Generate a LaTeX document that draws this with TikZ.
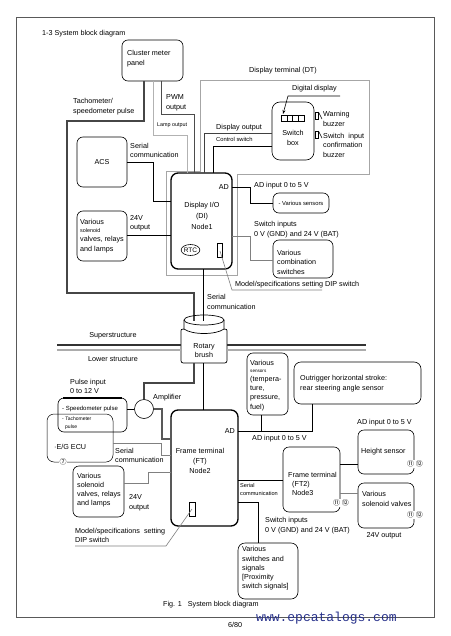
\documentclass[tikz,border=0pt]{standalone}
\usepackage{fontspec}
\setmainfont{Liberation Sans}
\newfontfamily\cjk{Noto Sans CJK JP}
\newfontfamily\wmfont{Liberation Mono}
\usetikzlibrary{arrows.meta,shapes.geometric}
\definecolor{wm}{RGB}{40,50,140}
\tikzset{
 box/.style={draw, rounded corners=5pt, line width=0.6pt, inner sep=0pt, outer sep=0pt},
 tbox/.style={draw, rounded corners=7pt, line width=1.3pt, inner sep=0pt, outer sep=0pt},
 txt/.style={inner sep=0pt, font=\fontsize{7.2}{9.5}\selectfont, align=left, anchor=west},
 sml/.style={txt, font=\fontsize{5.4}{7}\selectfont},
 cnum/.style={inner sep=0.6pt, fill=white, font=\cjk\fontsize{7}{7}\selectfont},
 wire/.style={draw, line width=0.6pt},
 gwire/.style={draw, gray, line width=0.8pt},
 tach/.style={draw, line width=2.2pt, gray!55!black},
}
\newcommand\bx[6]{\node[#6, minimum width={#4-#2}, minimum height={#5-#3}] (#1) at ({(#2+#4)/2},{(#3+#5)/2}) {};}
\begin{document}
\begin{tikzpicture}[x=1pt,y=-1pt]
\useasboundingbox (0,0) rectangle (450,636);
\fill[white] (0,0) rectangle (450,636);
% frame
\draw[gray!70!black, line width=0.7pt] (16,17) rectangle (434,617);
\node[txt] (title) at (42,34) {1-3 System block diagram};

% ---------- boxes ----------
\bx{cmp}{122}{40}{183}{81}{box, rounded corners=6pt}
\bx{acs}{77}{137}{127}{187}{box, rounded corners=6pt}
\bx{sol1}{77}{211}{127}{261}{box, rounded corners=6pt}
\bx{di}{171}{173}{232}{269}{tbox}
\bx{swb}{272}{102}{314}{160}{box, rounded corners=8pt}
\bx{vsen}{273}{193}{329}{213}{box, rounded corners=6pt}
\bx{comb}{273}{240}{333}{278}{box, rounded corners=6pt}
\bx{spd}{58}{398}{127}{432}{box, rounded corners=6pt}
\bx{ecu}{47}{414}{113}{462}{box, rounded corners=7pt, line width=0.5pt}
\bx{sol2}{73}{466}{124}{517}{box, rounded corners=6pt}
\bx{ft}{171}{410}{238}{526}{tbox}
\bx{sen2}{247}{353}{288}{415}{box, rounded corners=6pt}
\bx{outr}{294}{362}{421}{404}{box, rounded corners=7pt}
\bx{ft2}{283}{447}{340}{512}{box, rounded corners=6pt}
\bx{hgt}{358}{430}{414}{474}{box, rounded corners=6pt}
\bx{solv}{358}{483}{414}{528}{box, rounded corners=6pt}
\bx{vsw}{238}{543}{298}{599}{box, rounded corners=7pt}

% ---------- display terminal outline ----------
\draw[gray!70, line width=0.5pt] (200,80) -- (369,80) -- (369,174) -- (237,174) -- (237,275) -- (166,275) -- (166,171) -- (200,171) -- cycle;
\node[txt, anchor=center] (dtl) at (283,71) {Display terminal (DT)};

% ---------- cluster meter ----------
\node[txt] (cmpt) at (127,58.5) {Cluster meter\\panel};
\draw[tach] (cmp.south -| 144,0) -- (144,121) -- (67,121) -- (67,293) -- (194,293) -- (194,321);
\node[txt] (tachl) at (73,106.5) {Tachometer/\\speedometer pulse};
\draw[gwire, gray!60] (cmp.south -| 153,0) -- (153,135) -- (187,135) -- (di.north -| 187,0);
\node[sml] (lampl) at (157,125) {Lamp output};
\draw[gwire, gray!60!black] (cmp.south -| 161,0) -- (161,114) -- (194,114) -- (di.north -| 194,0);
\node[txt] (pwml) at (166,103) {PWM\\output};

% ---------- switch box ----------
\node[txt, anchor=center, align=center] (swbt) at (293,138) {Switch\\box};
\foreach \i in {0,1,2,3} {\draw[line width=0.5pt] ({281+5.75*\i},115) rectangle ({286.75+5.75*\i},121);}
\node[txt] (ddl) at (292,89) {Digital display};
\draw[wire, -{Stealth[length=4pt,width=3pt]}] (340,96) -- (288,96) -- (283,114);
\draw[line width=0.5pt] (315,112) rectangle (318.5,119);
\draw[line width=0.5pt] (318.5,112) -- (322,119);
\node[txt] (wbz) at (323,119) {Warning\\buzzer};
\draw[line width=0.5pt] (315,131) rectangle (318.5,138);
\draw[line width=0.5pt] (318.5,131) -- (322,138);
\node[txt] (sibz) at (323,145) {Switch\ \ input\\confirmation\\buzzer};
\draw[gwire, gray!50!black] (swb.west |- 0,133) -- (204,133) -- (di.north -| 204,0);
\node[txt] (dol) at (216,128) {Display output};
\draw[wire] (swb.west |- 0,146) -- (213,146) -- (di.north -| 213,0);
\node[sml, font=\fontsize{5.8}{7}\selectfont] (csl) at (216,139) {Control switch};

% ---------- ACS / solenoid upper ----------
\node[txt, anchor=center] (acst) at (acs.center) {ACS};
\node[txt] (acsl) at (130,150.5) {Serial\\communication};
\draw[wire] (acs.east) -- (153,162) -- (153,201) -- (di.west |- 0,201);
\node[txt] (s1a) at (80,222) {Various};
\node[sml] (s1b) at (80,230.5) {solenoid};
\node[txt] (s1c) at (80,240) {valves, relays};
\node[txt] (s1d) at (80,249.5) {and lamps};
\node[txt] (o24a) at (130,223) {24V\\output};
\draw[wire] (sol1.east |- 0,235) -- (di.west |- 0,235);

% ---------- Display I/O ----------
\node[txt, anchor=east] (ad1) at (229,187) {AD};
\node[txt, anchor=center, align=center, font=\fontsize{7.2}{11}\selectfont] (dit) at (202,216) {Display I/O\\(DI)\\Node1};
\node[draw, ellipse, line width=0.6pt, minimum width=16pt, minimum height=11pt, inner sep=0pt, font=\fontsize{6.5}{7}\selectfont] (rtc) at (190.5,250) {RTC};
\draw[line width=0.6pt] (217,243) rectangle (222,257);
\draw[gwire, line width=0.6pt] (220,251) -- (232,290) -- (322,290);
\node[txt] (dip1) at (235,285) {Model/specifications setting DIP switch};

\draw[wire] (di.east |- 0,187) -- (250,187) -- (250,203) -- (vsen.west);
\node[txt] (adi1) at (254,186) {AD input 0 to 5 V};
\node[sml, anchor=center, font=\fontsize{5.8}{7}\selectfont] (vsent) at (vsen.center) {- Various sensors};
\draw[gwire, line width=0.6pt] (di.east |- 0,236) -- (250,236) -- (250,260) -- (comb.west |- 0,260);
\node[txt] (swi1) at (254,229.5) {Switch inputs\\0 V (GND) and 24 V (BAT)};
\node[txt] (combt) at (277,262) {Various\\combination\\switches};

\draw[wire] (di.south -| 203,0) -- (203,321);
\node[txt] (ser1) at (207,302) {Serial\\communication};

% ---------- rotary brush ----------
\draw[line width=0.7pt] (204,320) ellipse [x radius=20pt, y radius=5pt];
\draw[line width=0.7pt] (184,320) -- (184,329) .. controls (192,335) and (216,335) .. (224,329) -- (224,320);
\draw[line width=0.7pt] (184,329) .. controls (181,329) .. (181,333) -- (181,358) .. controls (181,363) .. (186,363) -- (222,363) .. controls (227,363) .. (227,358) -- (227,333) .. controls (227,329) .. (224,329);
\node[txt, anchor=center, align=center] (rb) at (204,350.5) {Rotary\\brush};

% structure lines
\draw[line width=1.6pt, gray!40!black] (57,345) -- (181,345);
\draw[line width=1.6pt, gray!40!black] (227,345) -- (366,345);
\draw[line width=1.6pt, gray!65] (57,350) -- (181,350);
\draw[line width=1.6pt, gray!65] (227,350) -- (366,350);
\node[txt, anchor=center] (sup) at (113,336) {Superstructure};
\node[txt, anchor=center] (low) at (113,359) {Lower structure};

% ---------- lower part ----------
\node[draw, circle, line width=0.6pt, minimum size=19pt, inner sep=0pt] (amp) at (144,409) {};
\node[txt] (ampl) at (153,398) {Amplifier};
\draw[tach] (194,363) -- (194,383) -- (144,383) -- (amp.north);
\draw[wire] (203,363) -- (ft.north -| 203,0);
\draw[wire] (amp.west) -- (spd.east |- amp.west);
\draw[gwire, line width=1.1pt, gray!70!black] (amp.east) -- (162,409) -- (162,439) -- (ft.west |- 0,439);

\draw[line width=1.3pt] (63,398) -- (122,398);
\node[txt] (pil) at (70,386.5) {Pulse input\\0 to 12 V};
\node[sml, font=\fontsize{6}{7}\selectfont] (spt) at (62,409) {- Speedometer pulse};
\node[sml, font=\fontsize{5}{6}\selectfont] (tct) at (62,419) {- Tachometer};
\node[sml, font=\fontsize{5}{6}\selectfont] (tcp) at (65,427) {pulse};
\node[txt] (ecut) at (54,447) {·E/G ECU};
\node[cnum] (c7) at (63,462) {⑦};
\draw[gwire, line width=0.6pt] (ecu.east |- 0,443) -- (161,443) -- (161,455) -- (ft.west |- 0,455);
\node[txt] (ser2) at (115,455.5) {Serial\\communication};

\node[txt, font=\fontsize{7.2}{9}\selectfont] (s2t) at (77,490.5) {Various\\solenoid\\valves, relays\\and lamps};
\node[txt] (o24b) at (129,502.5) {24V\\output};
\draw[gwire, line width=0.7pt] (sol2.east |- 0,483) -- (148,483) -- (148,472) -- (ft.west |- 0,472);

\node[txt, anchor=east] (ad2) at (235,431) {AD};
\node[txt, anchor=center, align=center, font=\fontsize{7.2}{10}\selectfont] (ftt) at (200,460.5) {Frame terminal\\(FT)\\Node2};
\draw[line width=0.6pt] (189,502) rectangle (195,516);
\draw[gwire, line width=0.6pt] (192,509) -- (166,546) -- (75,546);
\node[txt] (dip2) at (75,535.5) {Model/specifications\ \ setting\\DIP switch};

\node[txt] (s3a) at (250,363) {Various};
\node[sml, font=\fontsize{4.6}{6}\selectfont] (s3b) at (250,371) {sensors};
\node[txt, font=\fontsize{7.2}{9.2}\selectfont] (s3c) at (250,393.5) {(tempera-\\ture,\\pressure,\\fuel)};
\node[txt] (outt) at (300,383.5) {Outrigger horizontal stroke:\\rear steering angle sensor};
\draw[wire] (ft.east |- 0,431) -- (312,431) -- (outr.south -| 312,0);
\draw[wire] (sen2.south -| 261,0) -- (261,431);
\node[txt] (adi2) at (252,439) {AD input 0 to 5 V};

\node[txt] (ft2a) at (288,475) {Frame terminal};
\node[txt] (ft2b) at (292,488.5) {(FT2)\\Node3};
\node[cnum] (c3) at (341,503) {⑪ ⑫};
\node[txt] (adi3) at (357,423) {AD input 0 to 5 V};
\node[txt] (hgtt) at (361,452) {Height sensor};
\node[cnum] (c1) at (415,464) {⑪ ⑫};
\draw[wire] (ft2.east |- 0,464) -- (hgt.west |- 0,464);
\node[txt] (solvt) at (362,499) {Various\\solenoid valves};
\node[cnum] (c2) at (415,515) {⑪ ⑫};
\draw[gwire, line width=0.6pt] (ft2.east |- 0,493) -- (solv.west |- 0,493);
\node[txt, anchor=center] (o24c) at (384,536) {24V output};

\draw[wire] (ft.east |- 0,480) -- (ft2.west |- 0,480);
\node[sml, font=\fontsize{5.6}{8}\selectfont] (ser3) at (240,489) {Serial\\communication};
\draw[wire] (ft.east |- 0,502) -- (258,502) -- (vsw.north -| 258,0);
\node[txt] (swi2) at (265,525.5) {Switch inputs\\0 V (GND) and 24 V (BAT)};
\node[txt, font=\fontsize{7.2}{9.25}\selectfont] (vswt) at (242,568.5) {Various\\switches and\\signals\\{[}Proximity\\switch signals{]}};

\node[txt] (fig) at (163,605) {Fig. 1\ \ \ System block diagram};
\node[txt] (pg) at (228,625) {6/80};
\node[anchor=west, inner sep=0pt, text=wm, font=\wmfont\fontsize{13}{13}\selectfont] (wmk) at (256,618) {www.epcatalogs.com};
\end{tikzpicture}
\end{document}
